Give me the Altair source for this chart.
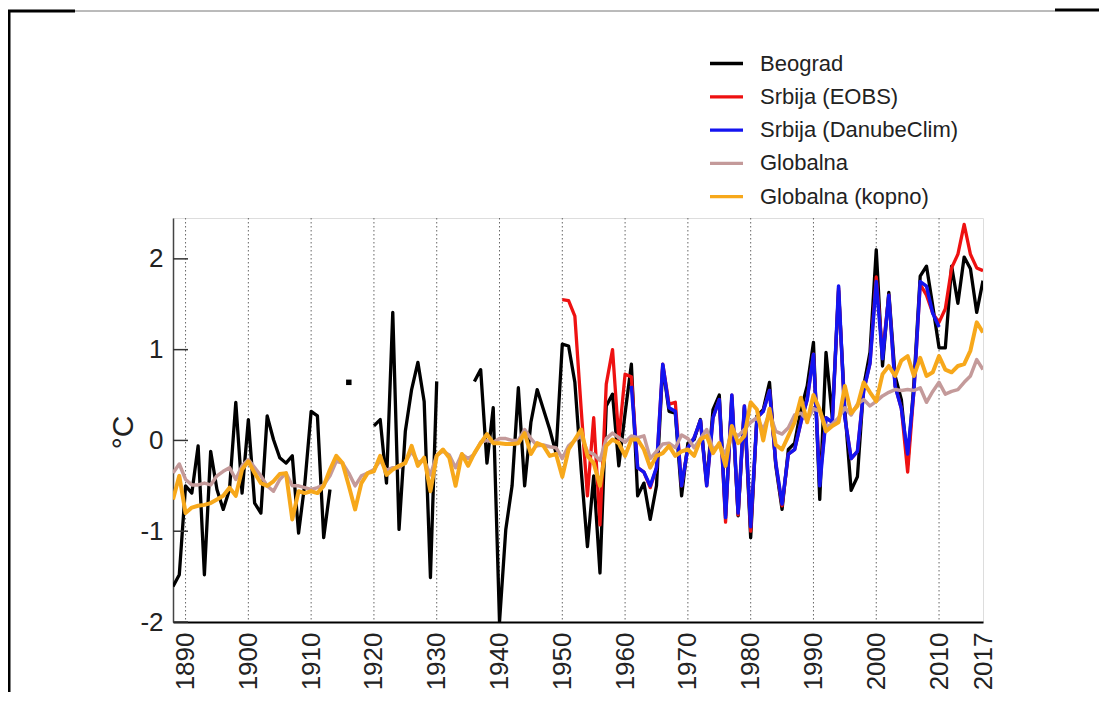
import altair as alt
import pandas as pd

years = list(range(1888, 2018))

beograd = [
    -1.61, -1.48, -0.50, -0.58, -0.06, -1.48, -0.12, -0.54, -0.76, -0.54,   # 1888-1897
    0.42, -0.58, 0.23, -0.69, -0.80, 0.27, 0.01, -0.19, -0.25, -0.17,       # 1898-1907
    -1.02, -0.47, 0.32, 0.27, -1.07, -0.54, None, None, 0.64, None,         # 1908-1917
    None, None, 0.16, 0.23, -0.47, 1.41, -0.98, 0.10, 0.56, 0.86,           # 1918-1927
    0.43, -1.51, 0.65, None, None, None, None, None, 0.65, 0.78,            # 1928-1937
    -0.25, 0.36, -2.00, -0.98, -0.50, 0.58, -0.50, 0.20, 0.56, 0.34,        # 1938-1947
    0.12, -0.14, 1.06, 1.04, 0.64, -0.32, -1.17, -0.39, -1.46, 0.38,        # 1948-1957
    0.51, -0.28, 0.30, 0.84, -0.61, -0.47, -0.87, -0.50, 0.82, 0.32,        # 1958-1967
    0.30, -0.61, -0.03, 0.01, 0.23, -0.47, 0.34, 0.50, -0.83, 0.47,         # 1968-1977
    -0.83, 0.36, -1.07, 0.27, 0.34, 0.64, -0.28, -0.76, -0.10, -0.03,       # 1978-1987
    0.34, 0.60, 1.08, -0.65, 0.97, 0.25, 1.65, 0.34, -0.55, -0.40,          # 1988-1997
    0.60, 0.97, 2.10, 0.82, 1.63, 0.71, 0.45, -0.27, 0.64, 1.81,            # 1998-2007
    1.92, 1.48, 1.02, 1.02, 1.92, 1.51, 2.02, 1.89, 1.41, 1.76,             # 2008-2017
]

eobs_years = list(range(1950, 2018))
eobs = [
    1.55, 1.54, 1.37, 0.35, -0.61, 0.25, -0.93, 0.62, 1.00, 0.01,           # 1950-1959
    0.73, 0.70, -0.30, -0.35, -0.52, -0.30, 0.84, 0.40, 0.42, -0.50,        # 1960-1969
    -0.08, 0.03, 0.22, -0.50, 0.25, 0.45, -0.90, 0.50, -0.82, 0.38,         # 1970-1979
    -1.00, 0.25, 0.32, 0.55, -0.25, -0.72, -0.15, -0.10, 0.20, 0.45,        # 1980-1989
    0.95, -0.45, 0.25, 0.20, 1.68, 0.25, -0.20, -0.12, 0.55, 0.85,          # 1990-1999
    1.80, 0.95, 1.60, 0.60, 0.35, -0.35, 0.55, 1.72, 1.60, 1.40,            # 2000-2009
    1.30, 1.45, 1.90, 2.05, 2.38, 2.05, 1.90, 1.87,                         # 2010-2017
]

danube_years = list(range(1961, 2011))
danube = [
    0.60, -0.30, -0.35, -0.50, -0.30, 0.84, 0.36, 0.32, -0.50,              # 1961-1969
    -0.08, 0.03, 0.22, -0.50, 0.25, 0.45, -0.85, 0.50, -0.80, 0.38,         # 1970-1979
    -0.95, 0.25, 0.32, 0.55, -0.25, -0.70, -0.15, -0.10, 0.20, 0.45,        # 1980-1989
    0.95, -0.50, 0.25, 0.20, 1.70, 0.25, -0.20, -0.12, 0.55, 0.85,          # 1990-1999
    1.75, 0.90, 1.60, 0.60, 0.35, -0.15, 0.55, 1.75, 1.70, 1.40,            # 2000-2009
    1.25,                                                                   # 2010
]

globalna = [
    -0.36, -0.26, -0.43, -0.49, -0.49, -0.47, -0.49, -0.39, -0.34, -0.30,   # 1888-1897
    -0.43, -0.28, -0.21, -0.30, -0.39, -0.50, -0.56, -0.43, -0.36, -0.50,   # 1898-1907
    -0.50, -0.52, -0.54, -0.52, -0.49, -0.39, -0.23, -0.25, -0.36, -0.50,   # 1908-1917
    -0.39, -0.36, -0.32, -0.22, -0.33, -0.30, -0.30, -0.24, -0.12, -0.24,   # 1918-1927
    -0.22, -0.38, -0.16, -0.12, -0.16, -0.30, -0.15, -0.20, -0.15, -0.02,   # 1928-1937
    0.00, -0.02, 0.02, 0.02, 0.00, 0.00, 0.12, 0.02, -0.06, -0.05,          # 1938-1947
    -0.07, -0.08, -0.20, -0.06, 0.00, 0.05, -0.12, -0.15, -0.22, 0.02,      # 1948-1957
    0.08, 0.03, -0.02, 0.05, 0.03, 0.05, -0.20, -0.12, -0.04, -0.03,        # 1958-1967
    -0.08, 0.06, 0.02, -0.08, 0.02, 0.12, -0.10, -0.05, -0.15, 0.10,        # 1968-1977
    0.05, 0.12, 0.20, 0.25, 0.12, 0.30, 0.10, 0.07, 0.14, 0.28,             # 1978-1987
    0.30, 0.22, 0.35, 0.32, 0.15, 0.18, 0.25, 0.36, 0.28, 0.40,             # 1988-1997
    0.45, 0.38, 0.43, 0.49, 0.53, 0.56, 0.55, 0.56, 0.55, 0.58,             # 1998-2007
    0.42, 0.54, 0.64, 0.51, 0.54, 0.56, 0.64, 0.71, 0.89, 0.78,             # 2008-2017
]

kopno = [
    -0.65, -0.39, -0.80, -0.74, -0.72, -0.71, -0.69, -0.65, -0.61, -0.52,   # 1888-1897
    -0.61, -0.32, -0.23, -0.36, -0.47, -0.50, -0.45, -0.37, -0.36, -0.87,   # 1898-1907
    -0.56, -0.58, -0.56, -0.58, -0.50, -0.32, -0.17, -0.25, -0.50, -0.76,   # 1908-1917
    -0.47, -0.36, -0.34, -0.17, -0.38, -0.32, -0.28, -0.25, -0.06, -0.28,   # 1918-1927
    -0.19, -0.56, -0.17, -0.10, -0.19, -0.50, -0.15, -0.28, -0.14, -0.03,   # 1928-1937
    0.07, -0.03, -0.03, -0.04, -0.04, -0.03, 0.08, -0.15, -0.03, -0.06,     # 1938-1947
    -0.17, -0.15, -0.40, -0.10, 0.01, 0.12, -0.17, -0.25, -0.50, -0.06,     # 1948-1957
    0.01, -0.03, -0.17, 0.01, 0.01, -0.10, -0.30, -0.17, -0.14, -0.06,      # 1958-1967
    -0.17, -0.12, -0.10, -0.17, 0.01, 0.05, -0.14, -0.03, -0.28, 0.16,      # 1968-1977
    -0.03, 0.05, 0.42, 0.34, 0.00, 0.35, -0.05, -0.10, 0.05, 0.20,          # 1978-1987
    0.47, 0.20, 0.50, 0.34, 0.10, 0.16, 0.20, 0.60, 0.30, 0.38,             # 1988-1997
    0.64, 0.53, 0.43, 0.73, 0.82, 0.71, 0.88, 0.93, 0.71, 0.91,             # 1998-2007
    0.71, 0.75, 0.93, 0.78, 0.75, 0.82, 0.84, 0.99, 1.30, 1.19,             # 2008-2017
]

series_names = ["Beograd", "Srbija (EOBS)", "Srbija (DanubeClim)", "Globalna", "Globalna (kopno)"]
series_colors = ["#000000", "#ee1111", "#1414f0", "#c49a9a", "#f7a81b"]
series_widths = [3.3, 3.3, 3.5, 3.5, 4]

x_ticks = [1890, 1900, 1910, 1920, 1930, 1940, 1950, 1960, 1970, 1980, 1990, 2000, 2010, 2017]
grid_years = [1890, 1900, 1910, 1920, 1930, 1940, 1950, 1960, 1970, 1980, 1990, 2000, 2010]
y_ticks = [-2, -1, 0, 1, 2]

# ---- build long table ----
rows = []
seg = 0
prev_null = True
for y, v in zip(years, beograd):
    if v is None:
        prev_null = True
        continue
    if prev_null:
        seg += 1
    prev_null = False
    rows.append({"year": y, "value": v, "series": "Beograd", "seg": seg})
for y, v in zip(eobs_years, eobs):
    rows.append({"year": y, "value": v, "series": "Srbija (EOBS)", "seg": 0})
for y, v in zip(danube_years, danube):
    rows.append({"year": y, "value": v, "series": "Srbija (DanubeClim)", "seg": 0})
for y, v in zip(years, globalna):
    rows.append({"year": y, "value": v, "series": "Globalna", "seg": 0})
for y, v in zip(years, kopno):
    rows.append({"year": y, "value": v, "series": "Globalna (kopno)", "seg": 0})
df = pd.DataFrame(rows)

# isolated Beograd values (no neighbours) drawn as dots
iso = []
for i, v in enumerate(beograd):
    if v is None:
        continue
    left = beograd[i - 1] if i > 0 else None
    right = beograd[i + 1] if i + 1 < len(beograd) else None
    if left is None and right is None:
        iso.append({"year": years[i], "value": v})
df_iso = pd.DataFrame(iso)

FONT = "Liberation Sans"

xs = alt.Scale(domain=[1888, 2017], nice=False, zero=False)
ys = alt.Scale(domain=[-2, 2.45], nice=False, zero=False)

x_axis = alt.Axis(values=x_ticks, format="d", labelAngle=270, labelFontSize=26, labelFont=FONT,
                  labelColor="#222", grid=False, ticks=False, tickSize=0, labelPadding=10,
                  domainColor="#000", domainWidth=2, title=None, labelOverlap=False,
                  labelFlush=False)
y_axis = alt.Axis(values=y_ticks, labelExpr="toString(datum.value)", labelFontSize=26,
                  labelFont=FONT, labelColor="#222", grid=False, ticks=False, tickSize=0,
                  labelPadding=10, domainColor="#444", domainWidth=1.5,
                  title="°C", titleFontSize=30, titleFont=FONT, titleColor="#222",
                  titleFontWeight="normal", titleX=-41, titleY=214, titleBaseline="alphabetic",
                  titleAngle=270)

X = alt.X("year:Q", scale=xs, axis=x_axis)
Y = alt.Y("value:Q", scale=ys, axis=y_axis)

legend = alt.Legend(orient="none", legendX=535, legendY=-173, symbolType="stroke",
                    symbolSize=1089, symbolStrokeWidth=3.3, labelFontSize=22, labelFont=FONT,
                    labelColor="#222", labelOffset=15, rowPadding=3.3, padding=0, title=None,
                    labelLimit=400)
C = alt.Color("series:N", scale=alt.Scale(domain=series_names, range=series_colors), legend=legend)

grid = alt.Chart(pd.DataFrame({"year": grid_years})).mark_rule(
    color="#666", strokeWidth=1, strokeDash=[1.5, 2.5]).encode(x=X)

lines = []
for name, w in zip(series_names, series_widths):
    lines.append(
        alt.Chart(df).transform_filter(alt.datum.series == name)
        .mark_line(strokeWidth=w, clip=True, strokeJoin="round")
        .encode(x=X, y=Y, color=C, detail="seg:N", order="year:Q")
    )

dots = alt.Chart(df_iso).mark_square(size=30, color="#000", opacity=1).encode(x=X, y=Y)

yticks = alt.Chart(pd.DataFrame({"value": y_ticks})).mark_rule(
    color="#333", strokeWidth=1.5).encode(y=Y, x=alt.value(0), x2=alt.value(15))

one = pd.DataFrame({"k": [0]})
deco = [
    alt.Chart(one).mark_rule(color="#777", strokeWidth=1).encode(
        x=alt.value(-98), x2=alt.value(882), y=alt.value(-207)),
    alt.Chart(one).mark_rule(color="#000", strokeWidth=3).encode(
        x=alt.value(-165), x2=alt.value(-98), y=alt.value(-207)),
    alt.Chart(one).mark_rule(color="#000", strokeWidth=3).encode(
        x=alt.value(882), x2=alt.value(930), y=alt.value(-208)),
    alt.Chart(one).mark_rule(color="#000", strokeWidth=3).encode(
        x=alt.value(-164), y=alt.value(-208), y2=alt.value(500)),
]

chart = alt.layer(grid, *lines, dots, yticks, *deco).properties(
    width=810, height=404,
    padding={"left": 165, "top": 210, "right": 116, "bottom": 70},
    autosize=alt.AutoSizeParams(type="none"),
).configure_view(stroke="#777", strokeWidth=1.2).configure(background="white")

chart.save("out.html", embed_options={"renderer": "svg", "actions": False})
